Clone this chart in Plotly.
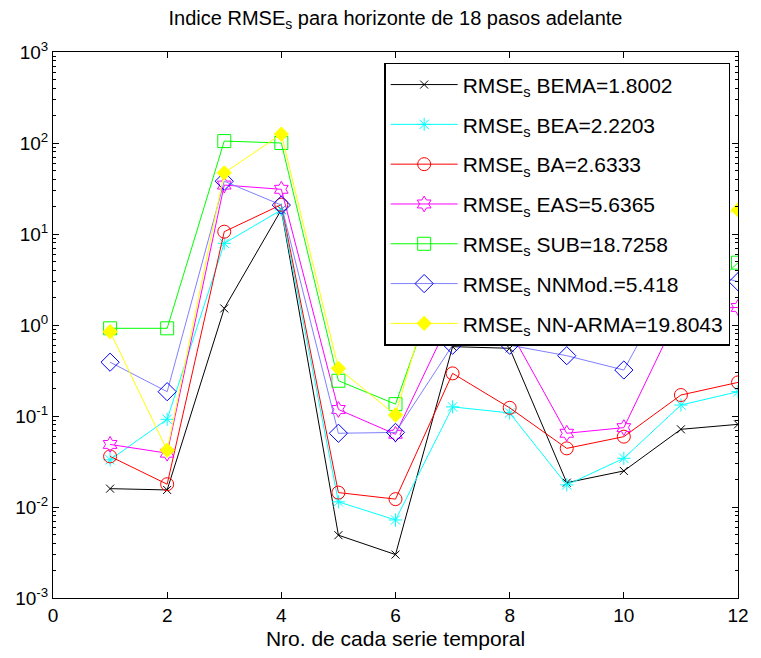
import plotly.graph_objects as go

x_series = list(range(1, 13))

bema = [0.0159, 0.0154, 1.52, 18.5, 0.0049, 0.0030, 0.578, 0.555, 0.0185, 0.0249, 0.0714, 0.081]
bea = [0.033, 0.092, 7.9, 18.4, 0.0114, 0.0072, 0.126, 0.108, 0.0175, 0.0343, 0.132, 0.185]
ba = [0.036, 0.0178, 10.6, 21.0, 0.0144, 0.0122, 0.294, 0.123, 0.0441, 0.0593, 0.170, 0.234]
eas = [0.0487, 0.039, 34.5, 31.0, 0.118, 0.063, 1.3, 0.88, 0.0646, 0.0745, 1.5, 1.56]
sub = [0.92, 0.92, 105, 100, 0.244, 0.135, 8.0, 1.5, 0.8, 0.8, 1.2, 4.84]
nnmod = [0.39, 0.185, 38, 20.8, 0.0646, 0.066, 0.6, 0.6, 0.46, 0.32, 4.5, 2.99]
nnarma = [0.845, 0.042, 47, 125, 0.334, 0.1026, 15, 8, 3, 6, 12, 18.4]

names = ["BEMA=1.8002", "BEA=2.2203", "BA=2.6333", "EAS=5.6365",
         "SUB=18.7258", "NNMod.=5.418", "NN-ARMA=19.8043"]

x_ticks = [0, 2, 4, 6, 8, 10, 12]
y_tickvals = [1e-3, 1e-2, 1e-1, 1e0, 1e1, 1e2, 1e3]
y_ticktext = ["10<sup>-3</sup>", "10<sup>-2</sup>", "10<sup>-1</sup>", "10<sup>0</sup>",
              "10<sup>1</sup>", "10<sup>2</sup>", "10<sup>3</sup>"]
y_minor = [m * 10.0 ** e for e in range(-3, 3) for m in range(2, 10)]

styles = [
    dict(line="#000000", mcol="#000000", sym="x-thin-open", size=8),
    dict(line="#00ffff", mcol="#00ffff", sym="asterisk-open", size=11),
    dict(line="#ff0000", mcol="#ff0000", sym="circle-open", size=13),
    dict(line="#ff00ff", mcol="#ff00ff", sym="hexagram-open", size=12),
    dict(line="#00ff00", mcol="#00ff00", sym="square-open", size=13),
    dict(line="#8080ff", mcol="#0000ff", sym="diamond-open", size=14),
    dict(line="#ffff00", mcol="#ffff00", sym="diamond", size=11),
]

series = [bema, bea, ba, eas, sub, nnmod, nnarma]

fig = go.Figure()
for i, (vals, nm, st) in enumerate(zip(series, names, styles)):
    marker = dict(symbol=st["sym"], size=st["size"], color=st["mcol"],
                  line=dict(color=st["mcol"], width=1))
    fig.add_trace(go.Scatter(
        x=x_series, y=vals, mode="lines+markers",
        name="RMSE<sub>s</sub> " + nm,
        legendgroup="g%d" % i,
        line=dict(color=st["line"], width=1),
        marker=marker,
    ))

font_family = "Liberation Sans, Arial, Helvetica, sans-serif"

fig.update_layout(
    width=761, height=658,
    margin=dict(l=53, r=13, t=52, b=60),
    paper_bgcolor="white", plot_bgcolor="white",
    font=dict(family=font_family, color="black", size=19),
    title=dict(text="Indice RMSE<sub>s</sub> para horizonte de 18 pasos adelante",
               x=0.5, xref="paper", y=1 - 18 / 658, yanchor="middle",
               font=dict(size=20, family=font_family, color="black")),
    showlegend=True,
    legend=dict(x=(389 - 53) / 695, y=0.98, xanchor="left", yanchor="top",
                bgcolor="white", bordercolor="black", borderwidth=1.5,
                font=dict(size=21, family=font_family, color="black"),
                itemwidth=67, tracegroupgap=9.5),
)

fig.update_xaxes(
    range=[0, 12], tickvals=x_ticks, ticktext=[str(v) for v in x_ticks],
    ticks="inside", ticklen=6, tickcolor="black", linecolor="black", linewidth=1,
    showline=True, mirror="allticks", showgrid=False, zeroline=False,
    title=dict(text="Nro. de cada serie temporal", font=dict(size=21), standoff=6),
    tickfont=dict(size=19),
)
fig.update_yaxes(
    type="log", range=[-3, 3], tickvals=y_tickvals, ticktext=y_ticktext,
    ticks="inside", ticklen=6, tickcolor="black", linecolor="black", linewidth=1,
    showline=True, mirror="allticks", showgrid=False, zeroline=False,
    tickfont=dict(size=19),
    minor=dict(tickvals=y_minor, ticks="inside", ticklen=3, tickcolor="black", showgrid=False),
)

fig.write_html("out.html")
